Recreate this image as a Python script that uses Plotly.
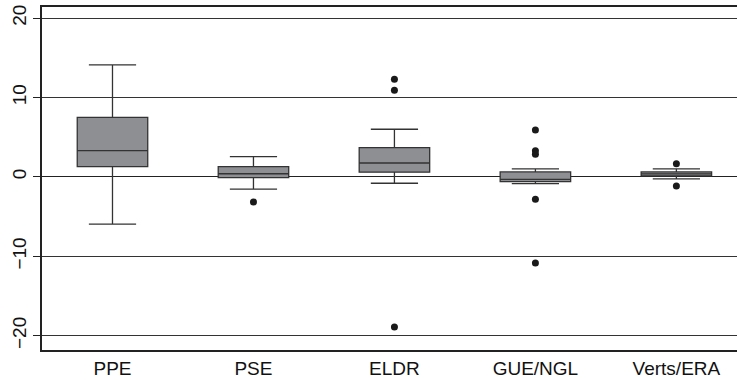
import plotly.graph_objects as go

categories = ["PPE", "PSE", "ELDR", "GUE/NGL", "Verts/ERA"]
q1 = [1.3, -0.1, 0.6, -0.6, 0.13]
median = [3.3, 0.4, 1.75, -0.3, 0.38]
q3 = [7.5, 1.3, 3.7, 0.63, 0.63]
lower_whisker = [-5.95, -1.55, -0.8, -0.85, -0.25]
upper_whisker = [14.1, 2.55, 6.0, 1.0, 1.0]

outlier_cats = ["PSE", "ELDR", "ELDR", "ELDR",
                "GUE/NGL", "GUE/NGL", "GUE/NGL", "GUE/NGL", "GUE/NGL",
                "Verts/ERA", "Verts/ERA"]
outlier_vals = [-3.15, 12.3, 10.9, -18.9,
                5.9, 3.3, 2.85, -2.8, -10.85,
                1.65, -1.15]

y_ticks = [-20, -10, 0, 10, 20]
y_tick_text = ["\u221220", "\u221210", "0", "10", "20"]

fig = go.Figure()
fig.add_trace(go.Box(
    x=categories, q1=q1, median=median, q3=q3,
    lowerfence=lower_whisker, upperfence=upper_whisker,
    boxpoints=False, width=0.5, whiskerwidth=0.67,
    fillcolor="#8e8f93", line=dict(color="#333333", width=1.3),
    showlegend=False, hoverinfo="skip",
))
fig.add_trace(go.Scatter(
    x=outlier_cats, y=outlier_vals, mode="markers",
    marker=dict(color="#1a1a1a", size=7, symbol="circle"),
    showlegend=False, hoverinfo="skip",
))

fig.update_layout(
    width=737, height=380,
    margin=dict(l=42, r=0, t=7, b=30, autoexpand=False),
    paper_bgcolor="white", plot_bgcolor="white",
    font=dict(family="Liberation Sans, Arial, sans-serif", size=19, color="#111111"),
)
fig.update_xaxes(
    type="category", categoryorder="array", categoryarray=categories,
    range=[-0.5, 4.43], showgrid=False, showline=True, linecolor="#222222",
    linewidth=1.5, mirror=True, ticks="", tickfont=dict(size=19), automargin=False,
)
fig.update_yaxes(
    range=[-21.8, 21.4], tickvals=y_ticks, ticktext=y_tick_text,
    tickangle=-90, showgrid=True, gridcolor="#333333", gridwidth=1,
    zeroline=True, zerolinecolor="#222222", zerolinewidth=1,
    showline=True, linecolor="#222222", linewidth=1.5, mirror=False,
    ticks="outside", ticklen=7, tickcolor="#222222", tickfont=dict(size=19),
    automargin=False,
)
fig.write_html(
    "out.html",
    config={"displayModeBar": False},
    post_script="document.body.style.margin='0';document.body.style.overflow='hidden';",
)
